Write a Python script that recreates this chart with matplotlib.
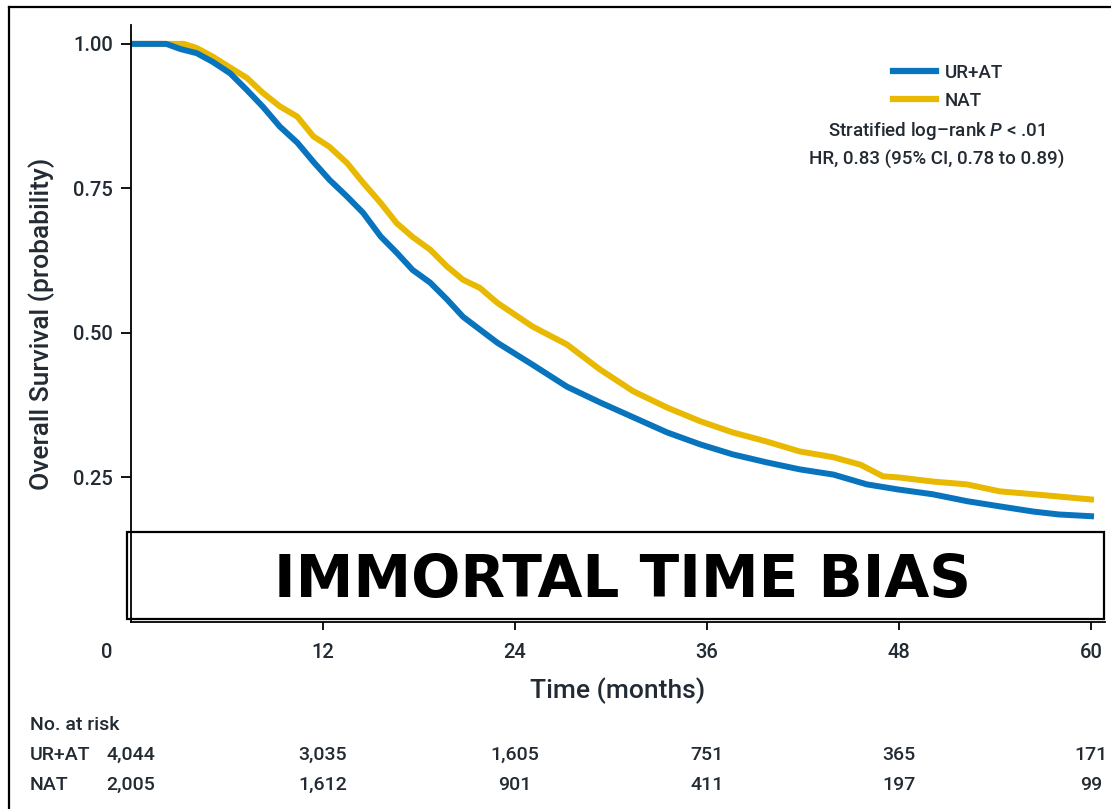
import matplotlib
matplotlib.use('Agg')
import matplotlib.pyplot as plt
from matplotlib.patches import Rectangle
from matplotlib.lines import Line2D
from matplotlib.transforms import ScaledTranslation, blended_transform_factory

plt.rcParams['font.family'] = ['Roboto', 'DejaVu Sans']
plt.rcParams['font.weight'] = 'medium'
plt.rcParams['axes.labelweight'] = 'medium'
plt.rcParams['mathtext.fontset'] = 'custom'
plt.rcParams['mathtext.rm'] = 'Roboto:medium'
plt.rcParams['mathtext.it'] = 'Roboto:italic:medium'

# survie (mois, probabilité)
mois_urat = [0, 2.2, 3.1, 4.1, 5.1, 6.2, 7.25, 8.25, 9.3, 10.4, 11.4, 12.4, 13.5, 14.5,
             15.6, 16.6, 17.6, 18.7, 19.75, 20.75, 21.8, 22.9, 25.1, 27.25, 29.3, 31.4,
             33.5, 35.6, 37.6, 39.75, 41.8, 43.9, 46, 48, 50.1, 52.25, 54.3, 56.4, 58, 60]
surv_urat = [1.0, 1.0, 0.991, 0.984, 0.969, 0.949, 0.920, 0.891, 0.857, 0.829, 0.796,
             0.765, 0.736, 0.708, 0.667, 0.639, 0.609, 0.587, 0.558, 0.528, 0.506, 0.483,
             0.445, 0.407, 0.380, 0.354, 0.328, 0.307, 0.290, 0.276, 0.264, 0.255, 0.238,
             0.229, 0.221, 0.209, 0.200, 0.191, 0.186, 0.183]

mois_nat = [0, 3.3, 4.1, 5.1, 6.2, 7.25, 8.25, 9.3, 10.4, 11.4, 12.4, 13.5, 14.5, 15.6,
            16.6, 17.6, 18.7, 19.75, 20.75, 21.8, 22.9, 25.1, 27.25, 29.3, 31.4, 33.5,
            35.6, 37.6, 39.75, 41.8, 43.9, 45.6, 47, 48, 50.1, 52.25, 54.3, 56.4, 58, 60]
surv_nat = [1.0, 1.0, 0.993, 0.978, 0.959, 0.941, 0.915, 0.892, 0.874, 0.840, 0.822,
            0.794, 0.760, 0.725, 0.690, 0.666, 0.644, 0.615, 0.592, 0.578, 0.552, 0.511,
            0.480, 0.437, 0.399, 0.371, 0.347, 0.328, 0.312, 0.295, 0.285, 0.272, 0.252,
            0.250, 0.243, 0.238, 0.226, 0.221, 0.217, 0.212]

x_ticks = [0, 12, 24, 36, 48, 60]
y_ticks = [0.25, 0.50, 0.75, 1.00]
y_labels = ['0.25', '0.50', '0.75', '1.00']
risque_urat = ['4,044', '3,035', '1,605', '751', '365', '171']
risque_nat = ['2,005', '1,612', '901', '411', '197', '99']

bleu = '#0874bd'
jaune = '#e8b900'
gris = '#222a33'

W, H = 1111, 809
fig = plt.figure(figsize=(W / 100, H / 100), dpi=100)

def fx(px):
    return px / W

def fy(py):
    return 1 - py / H

ax = fig.add_axes([fx(131), fy(622), fx(1105) - fx(131), fy(25) - fy(622)])
ax.plot(mois_urat, surv_urat, color=bleu, lw=4.3, zorder=1.6, label='UR+AT')
ax.plot(mois_nat, surv_nat, color=jaune, lw=4.3, zorder=1.5, label='NAT')

ax.set_xlim(0, (1105 - 131) / 16)
ax.set_ylim(0, (622.7 - 25) / 578.8)
ax.spines['top'].set_visible(False)
ax.spines['right'].set_visible(False)
for s in ['left', 'bottom']:
    ax.spines[s].set_linewidth(1.3)

ax.set_xticks(x_ticks)
ax.set_xticklabels([str(t) for t in x_ticks])
ax.set_yticks(y_ticks)
ax.set_yticklabels(y_labels)
ax.tick_params(axis='x', length=6, width=1.3, pad=9, labelsize=14.5, labelcolor=gris)
ax.tick_params(axis='y', length=7, width=1.3, pad=6, labelsize=14.5, labelcolor=gris)
# le "0" est décalé à gauche dans l'original
lab0 = ax.get_xticklabels()[0]
lab0.set_transform(lab0.get_transform() + ScaledTranslation(-24 / 100, 0, fig.dpi_scale_trans))
ax.get_xaxis().get_major_ticks()[0].tick1line.set_visible(False)

ax.set_xlabel('Time (months)', fontsize=19, labelpad=11, color=gris)
ax.set_ylabel('Overall Survival (probability)', fontsize=19, labelpad=13, color=gris)

leg = fig.legend(loc='upper left', bbox_to_anchor=(fx(893), fy(64)), frameon=False,
                 fontsize=13.5, handlelength=2.3, handletextpad=0.45, labelspacing=0.52,
                 borderpad=0, borderaxespad=0)
for l in leg.get_lines():
    l.set_linewidth(4.5)
for t in leg.get_texts():
    t.set_color(gris)

fig.text(fx(937), fy(131), 'Stratified log\u2013rank $\\it{P}$ < .01', ha='center', va='center',
         fontsize=13.5, color=gris)
fig.text(fx(937), fy(159), 'HR, 0.83 (95% CI, 0.78 to 0.89)', ha='center', va='center',
         fontsize=13.5, color=gris)

# cadre "IMMORTAL TIME BIAS"
boite = Rectangle((fx(127), fy(619)), fx(1104) - fx(127), fy(532) - fy(619),
                  transform=fig.transFigure, facecolor='white', edgecolor='black',
                  lw=1.6, zorder=2.2, clip_on=False)
ax.add_patch(boite)
ax.text(fx(623), fy(581), 'IMMORTAL TIME BIAS', transform=fig.transFigure,
        ha='center', va='center', fontsize=41.8, fontweight='bold',
        family='DejaVu Sans', zorder=3)

# nombre à risque
tr = blended_transform_factory(ax.transData, fig.transFigure)
fig.text(fx(30), fy(725), 'No. at risk', ha='left', va='center', fontsize=14, color=gris)
fig.text(fx(30), fy(755), 'UR+AT', ha='left', va='center', fontsize=14, color=gris)
fig.text(fx(30), fy(785), 'NAT', ha='left', va='center', fontsize=14, color=gris)
for t, a, b in zip(x_ticks, risque_urat, risque_nat):
    ax.text(t, fy(755), a, transform=tr, ha='center', va='center', fontsize=14,
            color=gris, clip_on=False)
    ax.text(t, fy(785), b, transform=tr, ha='center', va='center', fontsize=14,
            color=gris, clip_on=False)

# cadre extérieur de l'image
fig.add_artist(Line2D([fx(9), fx(9)], [fy(7), 0], color='black', lw=1.6))
fig.add_artist(Line2D([fx(9), 1], [fy(7), fy(7)], color='black', lw=1.6))

fig.savefig('out.png', dpi=100)
